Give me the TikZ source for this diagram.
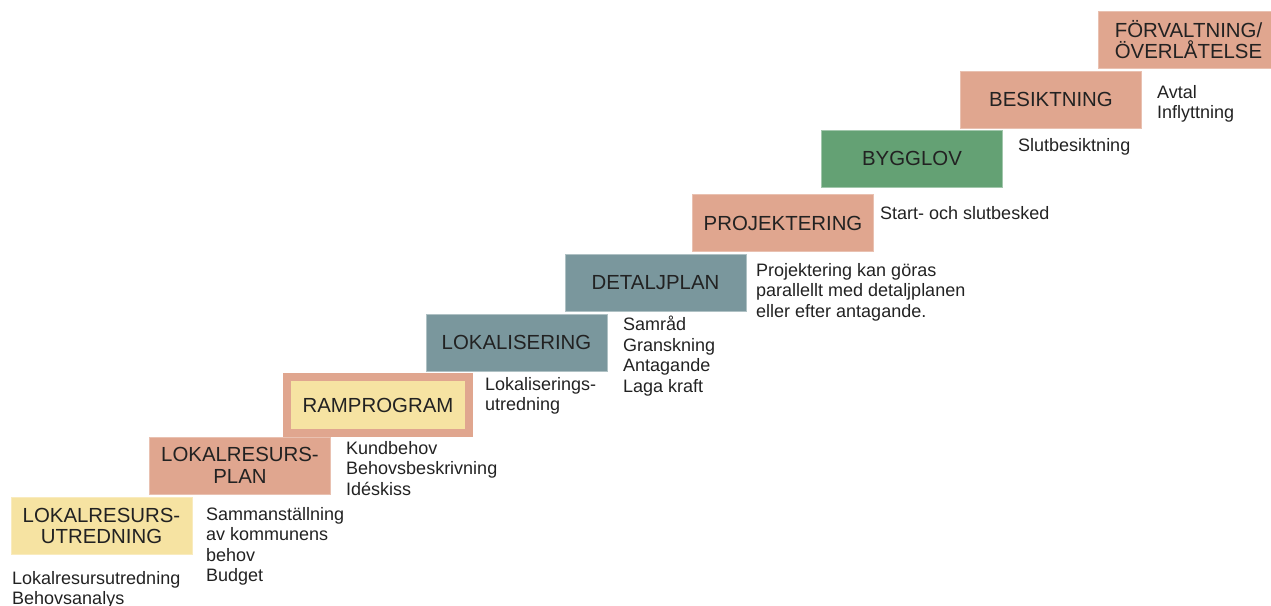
\documentclass[tikz,border=0pt]{standalone}
\usepackage{fontspec}
\setmainfont{Liberation Sans}
\usetikzlibrary{positioning}
\definecolor{steglax}{HTML}{E0A68F}
\definecolor{stegsand}{HTML}{F6E3A2}
\definecolor{stegskiffer}{HTML}{7A979D}
\definecolor{steggron}{HTML}{64A174}
\definecolor{stegtext}{HTML}{222222}

\begin{document}
\begin{tikzpicture}[x=1pt, y=-1pt,
    steg/.style={minimum width=181, minimum height=57, inner sep=0, align=center,
        text=stegtext, font=\fontsize{20.4}{21.7}\selectfont},
    laxbox/.style={steg, fill=steglax, draw=steglax!70!white, line width=0.8},
    sandbox/.style={steg, fill=stegsand, draw=stegsand!70!white, line width=0.8},
    skifferbox/.style={steg, fill=stegskiffer, draw=stegskiffer!60!white, line width=0.8},
    gronbox/.style={steg, fill=steggron, draw=steggron!60!white, line width=0.8},
    note/.style={anchor=north west, inner sep=0, align=left,
        text=stegtext, font=\fontsize{18}{20.5}\selectfont}
]
    \useasboundingbox (0, 0) rectangle (1271, 605);
    \clip (0, 0) rectangle (1271, 605);
    % trappstegen
    \node[sandbox] (utredning) at (101.5, 526) {LOKALRESURS-\\UTREDNING};
    \node[laxbox] (resursplan) at (240, 465.5) {LOKALRESURS-\\PLAN};
    \node[sandbox, draw=steglax, line width=8, minimum width=182, minimum height=56]
        (ramprogram) at (378, 405) {RAMPROGRAM};
    \node[skifferbox] (lokalisering) at (516.5, 342.5) {LOKALISERING};
    \node[skifferbox] (detaljplan) at (655.5, 282.5) {DETALJPLAN};
    \node[laxbox] (projektering) at (783, 223) {PROJEKTERING};
    \node[gronbox] (bygglov) at (912, 158.5) {BYGGLOV};
    \node[laxbox] (besiktning) at (1051, 99.5) {BESIKTNING};
    \node[laxbox] (forvaltning) at (1188.5, 39.5) {FÖRVALTNING/\\ÖVERLÅTELSE};
    % texter under stegen
    \node[note] (utredningtext) at (12, 571) {Lokalresursutredning\\Behovsanalys};
    \node[note] (resursplantext) at (206, 507) {Sammanställning\\av kommunens\\behov\\Budget};
    \node[note] (ramprogramtext) at (346, 441) {Kundbehov\\Behovsbeskrivning\\Idéskiss};
    \node[note] (lokaliseringtext) at (485, 377) {Lokaliserings-\\utredning};
    \node[note] (detaljplantext) at (623, 316) {Samråd\\Granskning\\Antagande\\Laga kraft};
    \node[note] (projekteringtext) at (756, 263)
        {Projektering kan göras\\parallellt med detaljplanen\\eller efter antagande.};
    \node[note] (bygglovtext) at (880, 206) {Start- och slutbesked};
    \node[note] (besiktningtext) at (1018, 138) {Slutbesiktning};
    \node[note] (forvaltningtext) at (1157, 85) {Avtal\\Inflyttning};
\end{tikzpicture}
\end{document}
